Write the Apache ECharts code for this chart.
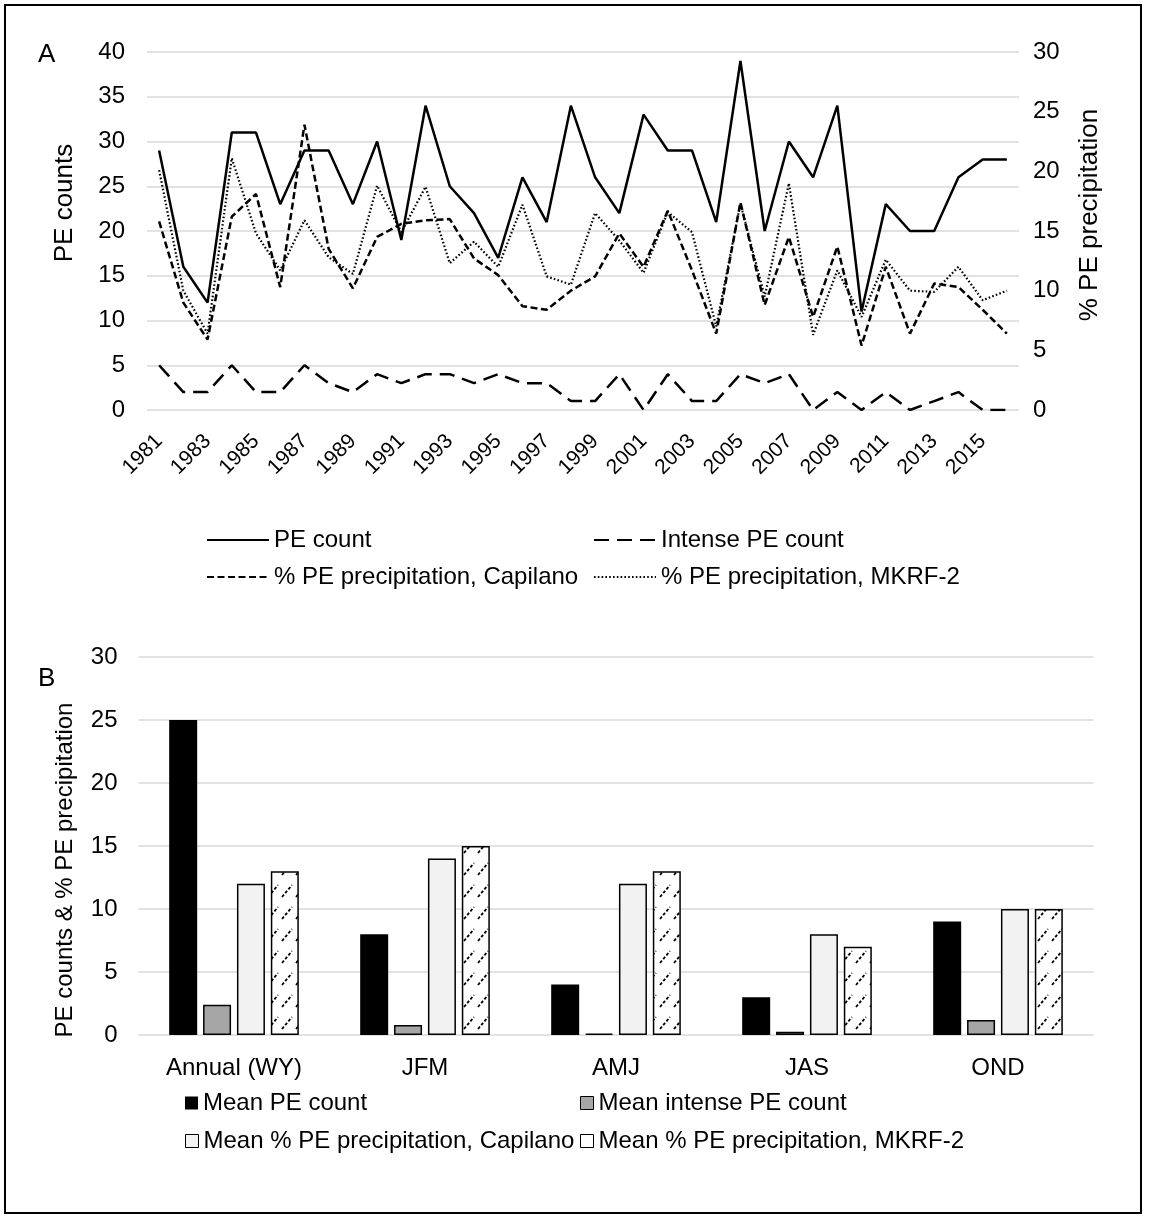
<!DOCTYPE html>
<html>
<head>
<meta charset="utf-8">
<script src="https://cdn.jsdelivr.net/npm/echarts@6/dist/echarts.min.js"></script>
<style>
  html, body { margin: 0; padding: 0; background: #fff; }
  #chart { width: 1151px; height: 1219px; }
</style>
</head>
<body>
<div id="chart"></div>
<script>
// Panel A: annual series, 1981-2016
const years = ['1981','1982','1983','1984','1985','1986','1987','1988','1989','1990','1991','1992',
  '1993','1994','1995','1996','1997','1998','1999','2000','2001','2002','2003','2004',
  '2005','2006','2007','2008','2009','2010','2011','2012','2013','2014','2015','2016'];
const peCount = [29,16,12,31,31,23,29,29,23,30,19,34,25,22,17,26,21,34,26,22,33,29,29,21,
  39,20,30,26,34,11,23,20,20,26,28,28];
const intenseCount = [5,2,2,5,2,2,5,3,2,4,3,4,4,3,4,3,3,1,1,4,0,4,1,1,
  4,3,4,0,2,0,2,0,1,2,0,0];
const pctCapilano = [15.8,9.0,5.9,16.2,18.1,10.3,23.9,13.5,10.2,14.5,15.6,15.9,16.0,12.7,11.3,8.7,8.4,10.0,
  11.2,14.8,12.0,16.7,11.7,6.4,17.4,8.8,14.5,7.8,13.7,5.4,12.0,6.4,10.6,10.3,8.4,6.4];
const pctMkrf = [20.1,10.0,6.4,21.1,14.8,11.7,15.9,12.8,11.4,18.8,14.9,18.7,12.3,14.1,12.0,17.2,11.2,10.5,
  16.5,14.2,11.5,16.6,14.9,7.0,17.3,9.5,19.0,6.3,11.7,7.8,12.6,10.0,9.9,12.0,9.2,10.0];

// Panel B: seasonal means
const seasons = ['Annual (WY)','JFM','AMJ','JAS','OND'];
const meanCount = [25,8,4,3,9];
const meanIntense = [2.4,0.8,0.1,0.25,1.2];
const meanCapilano = [12,14,12,8,10];
const meanMkrf = [13,15,13,7,10];

const FONT = "'Liberation Sans', Arial, sans-serif";
const GRID_LINE = { lineStyle: { color: '#d9d9d9', width: 1.5 } };

// diagonal dashed hatch used for the MKRF-2 bars
function hatchPattern() {
  const c = document.createElement('canvas');
  c.width = 14; c.height = 22;
  const g = c.getContext('2d');
  g.fillStyle = '#fff';
  g.fillRect(0, 0, 14, 22);
  g.strokeStyle = '#000';
  g.lineWidth = 1.8;
  g.setLineDash([3, 2]);
  g.beginPath();
  g.moveTo(2, 17);
  g.lineTo(12, 5);
  g.stroke();
  return c;
}

const chart = echarts.init(document.getElementById('chart'), null, { renderer: 'canvas' });

// line-sample legend entries (the marker dot is hidden, only the stroke is kept)
const lineLegend = (name, left, top) => ({
  data: [name], left, top, itemWidth: 62, itemHeight: 14, padding: 0,
  itemStyle: { opacity: 0 },
  textStyle: { fontFamily: FONT, fontSize: 24, color: '#000' }
});
const barLegend = (name, left, top, style) => ({
  data: [{ name, itemStyle: style }], left, top, itemWidth: 13, itemHeight: 13, icon: 'rect', padding: 0,
  textStyle: { fontFamily: FONT, fontSize: 24, color: '#000' }
});

const option = {
  backgroundColor: '#fff',
  animation: false,
  textStyle: { fontFamily: FONT, color: '#000' },
  grid: [
    { left: 147, top: 52, width: 872, height: 358 },
    { left: 138.5, top: 657, width: 955, height: 378 }
  ],
  xAxis: [
    {
      type: 'category', gridIndex: 0, data: years, boundaryGap: true,
      axisLine: { show: false }, axisTick: { show: false },
      axisLabel: { rotate: 45, interval: 1, fontSize: 21, color: '#000', fontFamily: FONT, margin: 28 }
    },
    {
      type: 'category', gridIndex: 1, data: seasons,
      axisLine: { show: false }, axisTick: { show: false },
      axisLabel: { fontSize: 24, color: '#000', fontFamily: FONT, margin: 21 }
    }
  ],
  yAxis: [
    {
      type: 'value', gridIndex: 0, min: 0, max: 40, interval: 5,
      splitLine: GRID_LINE, axisLine: { show: false }, axisTick: { show: false },
      axisLabel: { fontSize: 24, color: '#000', fontFamily: FONT, margin: 22 }
    },
    {
      type: 'value', gridIndex: 0, min: 0, max: 30, interval: 5, position: 'right',
      splitLine: { show: false }, axisLine: { show: false }, axisTick: { show: false },
      axisLabel: { fontSize: 24, color: '#000', fontFamily: FONT, margin: 14 }
    },
    {
      type: 'value', gridIndex: 1, min: 0, max: 30, interval: 5,
      splitLine: GRID_LINE, axisLine: { show: false }, axisTick: { show: false },
      axisLabel: { fontSize: 24, color: '#000', fontFamily: FONT, margin: 21 }
    }
  ],
  legend: [
    lineLegend('PE count', 206, 528),
    lineLegend('Intense PE count', 593, 528),
    lineLegend('% PE precipitation, Capilano', 206, 565),
    lineLegend('% PE precipitation, MKRF-2', 593, 565),
    barLegend('Mean PE count', 185, 1091, { color: '#000' }),
    barLegend('Mean intense PE count', 580, 1091, { color: '#a6a6a6', borderColor: '#000', borderWidth: 1 }),
    barLegend('Mean % PE precipitation, Capilano', 185, 1129, { color: '#f2f2f2', borderColor: '#000', borderWidth: 1 }),
    barLegend('Mean % PE precipitation, MKRF-2', 580, 1129, { color: '#fff', borderColor: '#000', borderWidth: 1 })
  ],
  series: [
    {
      name: 'PE count', type: 'line', xAxisIndex: 0, yAxisIndex: 0, data: peCount,
      symbol: 'none', lineStyle: { color: '#000', width: 2.5, type: 'solid' }, itemStyle: { color: '#000' }
    },
    {
      name: 'Intense PE count', type: 'line', xAxisIndex: 0, yAxisIndex: 0, data: intenseCount,
      symbol: 'none', lineStyle: { color: '#000', width: 2.5, type: [15, 8] }, itemStyle: { color: '#000' }
    },
    {
      name: '% PE precipitation, Capilano', type: 'line', xAxisIndex: 0, yAxisIndex: 1, data: pctCapilano,
      symbol: 'none', lineStyle: { color: '#000', width: 2.5, type: [7, 3.5] }, itemStyle: { color: '#000' }
    },
    {
      name: '% PE precipitation, MKRF-2', type: 'line', xAxisIndex: 0, yAxisIndex: 1, data: pctMkrf,
      symbol: 'none', lineStyle: { color: '#000', width: 2.2, type: [1.6, 2.2] }, itemStyle: { color: '#000' }
    },
    {
      name: 'Mean PE count', type: 'bar', xAxisIndex: 1, yAxisIndex: 2, data: meanCount,
      barWidth: 28, barGap: '21%', itemStyle: { color: '#000' }
    },
    {
      name: 'Mean intense PE count', type: 'bar', xAxisIndex: 1, yAxisIndex: 2, data: meanIntense,
      barWidth: 28, barGap: '21%', itemStyle: { color: '#a6a6a6', borderColor: '#000', borderWidth: 1.5 }
    },
    {
      name: 'Mean % PE precipitation, Capilano', type: 'bar', xAxisIndex: 1, yAxisIndex: 2, data: meanCapilano,
      barWidth: 28, barGap: '21%', itemStyle: { color: '#f2f2f2', borderColor: '#000', borderWidth: 1.5 }
    },
    {
      name: 'Mean % PE precipitation, MKRF-2', type: 'bar', xAxisIndex: 1, yAxisIndex: 2, data: meanMkrf,
      barWidth: 28, barGap: '21%',
      itemStyle: { color: { image: hatchPattern(), repeat: 'repeat' }, borderColor: '#000', borderWidth: 1.5 }
    }
  ],
  graphic: [
    { type: 'rect', shape: { x: 5, y: 5, width: 1136, height: 1208 }, style: { fill: 'none', stroke: '#000', lineWidth: 2 }, silent: true },
    { type: 'text', x: 38, y: 42, style: { text: 'A', fontSize: 26, fontFamily: FONT, fill: '#000' } },
    { type: 'text', x: 38, y: 666, style: { text: 'B', fontSize: 26, fontFamily: FONT, fill: '#000' } },
    { type: 'text', x: 65, y: 203, rotation: Math.PI / 2,
      style: { text: 'PE counts', fontSize: 26, fontFamily: FONT, fill: '#000', align: 'center', verticalAlign: 'middle' } },
    { type: 'text', x: 1090, y: 215, rotation: Math.PI / 2,
      style: { text: '% PE precipitation', fontSize: 26, fontFamily: FONT, fill: '#000', align: 'center', verticalAlign: 'middle' } },
    { type: 'text', x: 65, y: 870, rotation: Math.PI / 2,
      style: { text: 'PE counts & % PE precipitation', fontSize: 24, fontFamily: FONT, fill: '#000', align: 'center', verticalAlign: 'middle' } }
  ]
};

chart.setOption(option);
</script>
</body>
</html>
